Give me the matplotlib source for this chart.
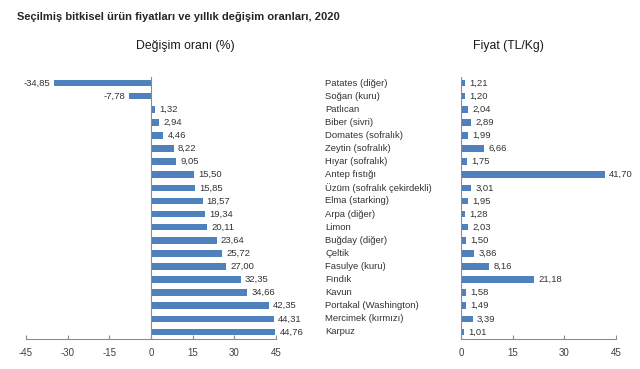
import matplotlib
matplotlib.use("Agg")
import matplotlib.pyplot as plt

plt.rcParams['font.family'] = ['Liberation Sans', 'DejaVu Sans']

categories = ["Patates (diğer)", "Soğan (kuru)", "Patlıcan", "Biber (sivri)",
              "Domates (sofralık)", "Zeytin (sofralık)", "Hıyar (sofralık)",
              "Antep fıstığı", "Üzüm (sofralık çekirdekli)", "Elma (starking)",
              "Arpa (diğer)", "Limon", "Buğday (diğer)", "Çeltik", "Fasulye (kuru)",
              "Fındık", "Kavun", "Portakal (Washington)", "Mercimek (kırmızı)", "Karpuz"]
change = [-34.85, -7.78, 1.32, 2.94, 4.46, 8.22, 9.05, 15.50, 15.85, 18.57,
          19.34, 20.11, 23.64, 25.72, 27.00, 32.35, 34.66, 42.35, 44.31, 44.76]
price = [1.21, 1.20, 2.04, 2.89, 1.99, 6.66, 1.75, 41.70, 3.01, 1.95,
         1.28, 2.03, 1.50, 3.86, 8.16, 21.18, 1.58, 1.49, 3.39, 1.01]
ticks = [-45, -30, -15, 0, 15, 30, 45]
ticks_r = [0, 15, 30, 45]

def fmt(v):
    return f"{v:.2f}".replace(".", ",")

W, H = 640, 369
fig = plt.figure(figsize=(6.4, 3.69), dpi=100)
bar_color = "#4F81BD"
axis_color = "#8C8C8C"
txt_color = "#333333"
fs = 6.8

y = list(range(len(categories)))
top_px, bot_px = 76.5, 338.5
axb = 1 - bot_px / H
axh = (bot_px - top_px) / H

ax1 = fig.add_axes([26 / W, axb, 250 / W, axh])
ax2 = fig.add_axes([461 / W, axb, 155 / W, axh])

for ax, vals, xt, xl in [(ax1, change, ticks, (-45, 45)), (ax2, price, ticks_r, (0, 45))]:
    ax.barh(y, vals, height=0.5, color=bar_color)
    ax.set_xlim(*xl)
    ax.set_ylim(len(categories) - 0.5, -0.5)
    ax.set_xticks(xt)
    ax.set_xticklabels([str(t) for t in xt], fontsize=7, color="#404040")
    ax.tick_params(axis='x', direction='in', length=3, color=axis_color, pad=7)
    ax.set_yticks([])
    for s in ['top', 'right', 'left']:
        ax.spines[s].set_visible(False)
    ax.spines['bottom'].set_color(axis_color)
    ax.axvline(0, color=axis_color, lw=0.8)
    ax.set_facecolor('none')
    for yi, v in zip(y, vals):
        if v >= 0:
            ax.annotate(fmt(v), (v, yi), xytext=(3, 0), textcoords='offset points',
                        ha='left', va='center', fontsize=fs, color=txt_color)
        else:
            ax.annotate(fmt(v), (v, yi), xytext=(-3, 0), textcoords='offset points',
                        ha='right', va='center', fontsize=fs, color=txt_color)

# category labels
tr = matplotlib.transforms.blended_transform_factory(fig.transFigure, ax2.transData)
for yi, c in zip(y, categories):
    ax2.text(325 / W, yi, c, transform=tr,
             ha='left', va='center', fontsize=fs, color=txt_color)

fig.text(17 / W, 1 - 17 / H, "Seçilmiş bitkisel ürün fiyatları ve yıllık değişim oranları, 2020",
         ha='left', va='center', fontsize=8, fontweight='bold', color="#262626")
fig.text(185 / W, 1 - 46 / H, "Değişim oranı (%)", ha='center', va='center',
         fontsize=8.8, color="#1a1a1a")
fig.text(508 / W, 1 - 46 / H, "Fiyat (TL/Kg)", ha='center', va='center',
         fontsize=8.8, color="#1a1a1a")

fig.savefig("out.png", dpi=100)
